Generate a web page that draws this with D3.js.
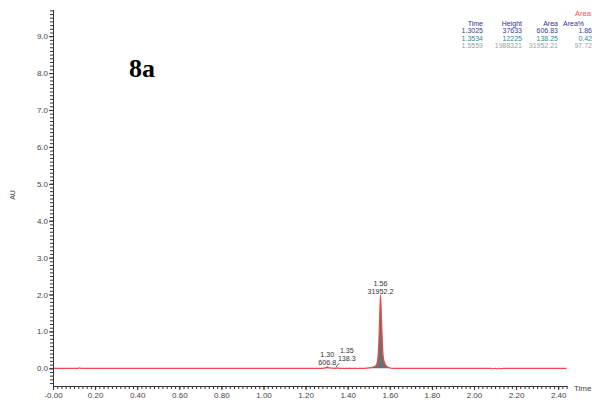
<!DOCTYPE html>
<html>
<head>
<meta charset="utf-8">
<script src="https://cdn.jsdelivr.net/npm/d3@7"></script>
<style>
html,body{margin:0;padding:0;background:#fff;}
svg{display:block;}
text{font-family:"Liberation Sans",Arial,sans-serif;}
</style>
</head>
<body>
<svg id="chart" width="592" height="405"></svg>
<script>
// ---- data ----
const times  = [0, 0.004, 0.008, 0.12, 0.126, 0.132, 1.28, 1.295, 1.3025, 1.31, 1.345, 1.3534, 1.36, 1.48, 1.50, 1.52, 1.535, 1.543, 1.548, 1.552, 1.5559, 1.560, 1.564, 1.568, 1.575, 1.585, 1.595, 1.61, 2.08, 2.09, 2.10, 2.11, 2.12, 2.13, 2.14, 2.44];
const signal = [0, 0.01, 0, 0, 0.012, 0, 0, 0.01, 0.0376, 0.01, 0, 0.0122, 0, 0, 0.01, 0.035, 0.08, 0.25, 0.7, 1.4, 1.988, 1.45, 0.8, 0.35, 0.15, 0.06, 0.02, 0, 0, -0.015, 0, -0.015, 0, -0.01, 0, -0.005];
const peakTimes  = [1.3025, 1.3534, 1.5559];
const peakHeights = [37633, 12225, 1988321];
const peakAreas = [606.83, 138.25, 31952.21];
const peakAreaPct = [1.86, 0.42, 97.72];
const peakLabelTime = ["1.30", "1.35", "1.56"];
const peakLabelArea = ["606.8", "138.3", "31952.2"];
const xTickValues = [0, 0.2, 0.4, 0.6, 0.8, 1.0, 1.2, 1.4, 1.6, 1.8, 2.0, 2.2, 2.4];
const xTickLabels = ["-0.00", "0.20", "0.40", "0.60", "0.80", "1.00", "1.20", "1.40", "1.60", "1.80", "2.00", "2.20", "2.40"];
const yTickValues = [0, 1, 2, 3, 4, 5, 6, 7, 8, 9];
const yTickLabels = ["0.0", "1.0", "2.0", "3.0", "4.0", "5.0", "6.0", "7.0", "8.0", "9.0"];
const tableHeaders = ["Time", "Height", "Area", "Area%"];

const svg = d3.select("#chart");
const x = d3.scaleLinear().domain([0, 2.44]).range([53, 566.6]);
const y = d3.scaleLinear().domain([-0.48, 9.72]).range([386, 9.6]);

const pts = times.map((t, i) => ({t, v: signal[i]}));

// filled peaks
const fillArea = d3.area().x(d => x(d.t)).y0(y(0)).y1(d => y(Math.max(0, d.v))).curve(d3.curveMonotoneX);
svg.append("path").datum(pts.filter(d => d.t >= 1.48 && d.t <= 1.61))
  .attr("d", fillArea).attr("fill", "#6e6e6e");
svg.append("path").datum(pts.filter(d => d.t >= 1.295 && d.t <= 1.31))
  .attr("d", fillArea).attr("fill", "#303060");
svg.append("path").datum(pts.filter(d => d.t >= 1.345 && d.t <= 1.36))
  .attr("d", fillArea).attr("fill", "#306060");

// trace
const line = d3.line().x(d => x(d.t)).y(d => y(d.v)).curve(d3.curveMonotoneX);
svg.append("path").datum(pts).attr("d", line)
  .attr("fill", "none").attr("stroke", "#f04a4a").attr("stroke-width", 1.2);

// axes
const axisColor = "#333";
function styleAxis(g) {
  g.select(".domain").attr("stroke", axisColor).attr("stroke-width", 1);
  g.selectAll(".tick line").attr("stroke", axisColor);
  g.selectAll(".tick text").attr("fill", "#444").style("font-size", "8px");
}
const yMinor = d3.range(-4, 98).map(i => i / 10);
svg.append("g").attr("transform", "translate(53,0)")
  .call(d3.axisLeft(y).tickValues(yMinor).tickSize(3).tickFormat("").tickSizeOuter(0))
  .call(styleAxis);
svg.append("g").attr("transform", "translate(53,0)")
  .call(d3.axisLeft(y).tickValues(yTickValues).tickSize(4).tickPadding(1)
    .tickFormat((d, i) => yTickLabels[i]).tickSizeOuter(0))
  .call(styleAxis);

const xMinor = d3.range(0, 123).map(i => i / 50);
svg.append("g").attr("transform", "translate(0,386)")
  .call(d3.axisBottom(x).tickValues(xMinor).tickSize(3).tickFormat("").tickSizeOuter(0))
  .call(styleAxis);
svg.append("g").attr("transform", "translate(0,386)")
  .call(d3.axisBottom(x).tickValues(xTickValues).tickSize(4).tickPadding(2)
    .tickFormat((d, i) => xTickLabels[i]).tickSizeOuter(0))
  .call(styleAxis);

svg.append("text").attr("x", 574).attr("y", 391).attr("fill", "#444")
  .style("font-size", "8px").text("Time");
svg.append("text").attr("transform", "translate(15,195) rotate(-90)")
  .attr("text-anchor", "middle").attr("fill", "#444").style("font-size", "7px").text("AU");

// title
svg.append("text").attr("x", 129).attr("y", 77)
  .style("font-family", "'Liberation Serif','Times New Roman',serif")
  .style("font-weight", "bold").style("font-size", "26px").attr("fill", "#000").text("8a");

// peak labels
const lblOffsets = [{dx: 0, ty: 357, ay: 365}, {dx: 9, ty: 352.5, ay: 361}, {dx: 0, ty: 285.5, ay: 293.5}];
peakTimes.forEach((t, i) => {
  const cx = x(t) + lblOffsets[i].dx;
  svg.append("text").attr("x", cx).attr("y", lblOffsets[i].ty).attr("text-anchor", "middle")
    .attr("fill", "#333").style("font-size", "7.2px").text(peakLabelTime[i]);
  svg.append("text").attr("x", cx).attr("y", lblOffsets[i].ay).attr("text-anchor", "middle")
    .attr("fill", "#333").style("font-size", "7.2px").text(peakLabelArea[i]);
});
// leader line for 1.35
svg.append("line").attr("x1", x(peakTimes[1]) - 2).attr("y1", y(0) - 1)
  .attr("x2", x(peakTimes[1]) + 1).attr("y2", y(0) - 5).attr("stroke", "#333").attr("stroke-width", 0.8);

// results table
const colRight = [483, 522, 558, 592];
const rowColors = ["#3a3a9e", "#2a8f8f", "#a0a0a0"];
svg.append("text").attr("x", 575).attr("y", 16).attr("fill", "#ff4a4a")
  .style("font-size", "7.5px").text("Area");
tableHeaders.forEach((h, j) => {
  const last = j === tableHeaders.length - 1;
  svg.append("text").attr("x", last ? 563 : colRight[j]).attr("y", 25.5)
    .attr("text-anchor", last ? "start" : "end")
    .attr("fill", "#33338a").style("font-size", "7px").text(h);
});
peakTimes.forEach((t, i) => {
  const cells = [t.toFixed(4), String(peakHeights[i]), peakAreas[i].toFixed(2), peakAreaPct[i].toFixed(2)];
  cells.forEach((c, j) => {
    svg.append("text").attr("x", colRight[j]).attr("y", 33 + i * 7.6).attr("text-anchor", "end")
      .attr("fill", rowColors[i]).style("font-size", "7px").text(c);
  });
});
</script>
</body>
</html>
